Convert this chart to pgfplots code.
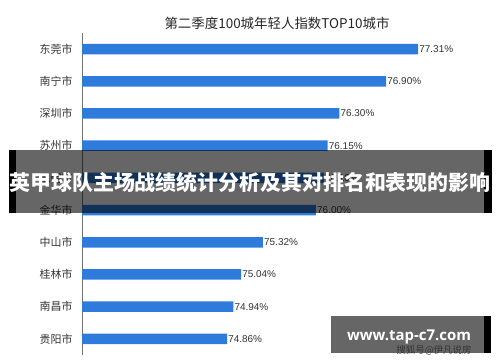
\documentclass[border=0pt]{standalone}
\usepackage{pgfplots}
\pgfplotsset{compat=1.18}
\usepackage{fontspec}
\setmainfont{Noto Sans CJK SC}
\newfontfamily\numfont{Liberation Sans}
\newfontfamily\wmfont{Open Sans}
\definecolor{barblue}{HTML}{2F7BDB}
\definecolor{txt}{HTML}{333333}
\begin{document}
\begin{tikzpicture}
\path[use as bounding box] (0,0) rectangle (500bp,362bp);
\begin{axis}[
  at={(82bp,7bp)}, anchor=south west, scale only axis,
  width=390bp, height=322bp,
  xmin=73, xmax=78, ymin=-0.5, ymax=9.5,
  xbar, bar width=10.5bp,
  axis x line=none, axis y line*=left,
  axis line style={draw=black!55, line width=0.8pt, -},
  ytick={0,...,9},
  yticklabels={贵阳市,南昌市,桂林市,中山市,金华市,昆明市,苏州市,深圳市,南宁市,东莞市},
  yticklabel style={font=\fontsize{11}{11}\selectfont, text=txt, xshift=-6bp},
  ytick style={draw=none},
  major tick length=0pt,
  clip=false,
  nodes near coords={\numfont\pgfmathprintnumber[fixed,precision=2,fixed zerofill,assume math mode=true]{\pgfplotspointmeta}\%},
  nodes near coords style={anchor=west, inner sep=1bp, font=\fontsize{10}{10}\selectfont, text=txt},
]
\addplot[fill=barblue, draw=none] coordinates {
(74.86,0) (74.94,1) (75.04,2) (75.32,3) (76.00,4) (76.10,5) (76.15,6) (76.30,7) (76.90,8) (77.31,9)};
\end{axis}
\node[text=black!85, font=\fontsize{13.5}{13.5}\selectfont] at (277bp,339bp) {第二季度100城年轻人指数TOP10城市};
% banner overlay
\fill[black, opacity=0.6] (16bp,149.3bp) rectangle (484bp,212bp);
\fill[black] (9bp,149.3bp) rectangle (16bp,212bp);
\fill[black] (484bp,149.3bp) rectangle (492bp,212bp);
\node[text=white, font=\fontsize{21}{21}\selectfont\bfseries, inner sep=0pt] at (250bp,179bp) {英甲球队主场战绩统计分析及其对排名和表现的影响};
% watermark
\fill[black!60] (331bp,9bp) rectangle (484bp,46bp);
\fill[black] (484bp,9bp) rectangle (491bp,46bp);
\node[text=white, font=\wmfont\fontsize{15}{15}\selectfont\bfseries, inner sep=0pt] at (409bp,25.5bp) {www.tap-c7.com};
\node[text=txt, font=\fontsize{9.5}{9.5}\selectfont, inner sep=0pt] at (434bp,11.5bp) {搜狐号@伊凡说房};
\end{tikzpicture}
\end{document}
